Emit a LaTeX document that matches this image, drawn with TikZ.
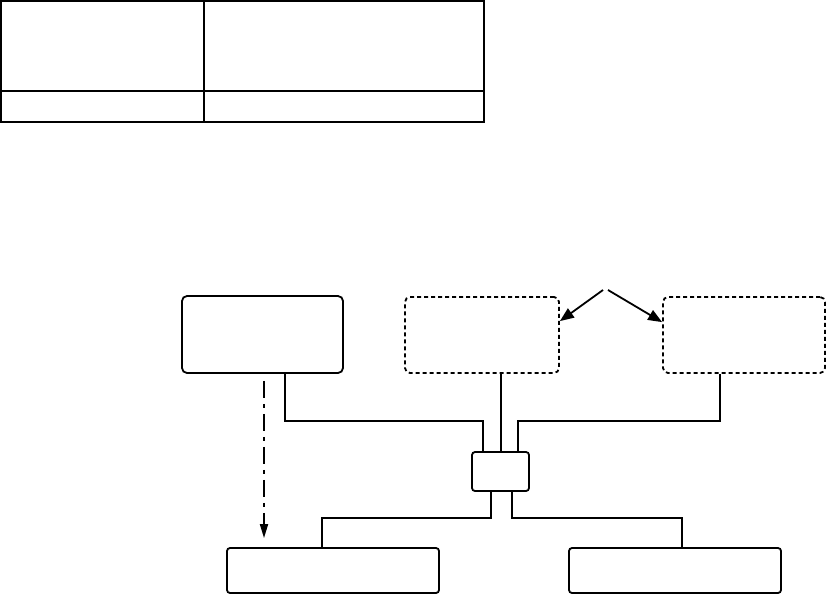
\documentclass[tikz,border=0pt]{standalone}
\usetikzlibrary{arrows.meta}
\begin{document}
\begin{tikzpicture}[x=1pt,y=-1pt,
  solidbox/.style={draw, rounded corners=5pt, inner sep=0pt, line width=1.8pt},
  dashbox/.style={draw, rounded corners=5pt, inner sep=0pt, line width=1.8pt, dash pattern=on 4pt off 3pt},
  smallbox/.style={draw, rounded corners=3pt, inner sep=0pt, line width=1.8pt},
  link/.style={draw, line width=1.8pt},
  bigarrow/.style={-{Triangle[length=14pt,width=11pt]}, line width=1.8pt},
  dasharrow/.style={-{Triangle[length=14pt,width=8pt]}, line width=1.8pt, dash pattern=on 17pt off 6pt on 4pt off 6pt}
]
\useasboundingbox (0,0) rectangle (826,596);
% table
\draw[line width=1.6pt] (0.8,0.8) rectangle (484,122);
\draw[line width=1.6pt] (204,0.8) -- (204,122);
\draw[line width=1.6pt] (0.8,91) -- (484,91);
% boxes
\node[solidbox, minimum width=161pt, minimum height=77pt] (A) at (262.5,334.5) {};
\node[dashbox, minimum width=154pt, minimum height=76pt] (B) at (482,335) {};
\node[dashbox, minimum width=162pt, minimum height=76pt] (C) at (744,335) {};
\node[smallbox, minimum width=57pt, minimum height=39pt] (S) at (500.5,471.5) {};
\node[solidbox, rounded corners=3pt, minimum width=212pt, minimum height=45pt] (D) at (333,570.5) {};
\node[solidbox, rounded corners=3pt, minimum width=212pt, minimum height=45pt] (E) at (675,570.5) {};
\coordinate (P) at (603,290);
\coordinate (Q) at (608,290);
% connectors
\draw[link] ([xshift=22.5pt]A.south) |- ([xshift=-17.5pt,yshift=30pt]S.north) -- ([xshift=-17.5pt]S.north);
\draw[link] ([xshift=19pt]B.south) -- ([xshift=19pt]B.south |- S.north);
\draw[link] ([xshift=-24pt]C.south) |- ([xshift=17.5pt,yshift=30pt]S.north) -- ([xshift=17.5pt]S.north);
\draw[link] ([xshift=-9.5pt]S.south) |- ([xshift=-11pt,yshift=29pt]D.north) -- ([xshift=-11pt]D.north);
\draw[link] ([xshift=11.5pt]S.south) |- ([xshift=7pt,yshift=29pt]E.north) -- ([xshift=7pt]E.north);
\draw[bigarrow] (P) -- ([yshift=-25pt]B.north east);
\draw[bigarrow] (Q) -- ([yshift=-26pt]C.north west);
\draw[dasharrow] ([xshift=1.5pt,yshift=-7pt]A.south) -- ([xshift=-69pt,yshift=9pt]D.north);
\end{tikzpicture}
\end{document}
